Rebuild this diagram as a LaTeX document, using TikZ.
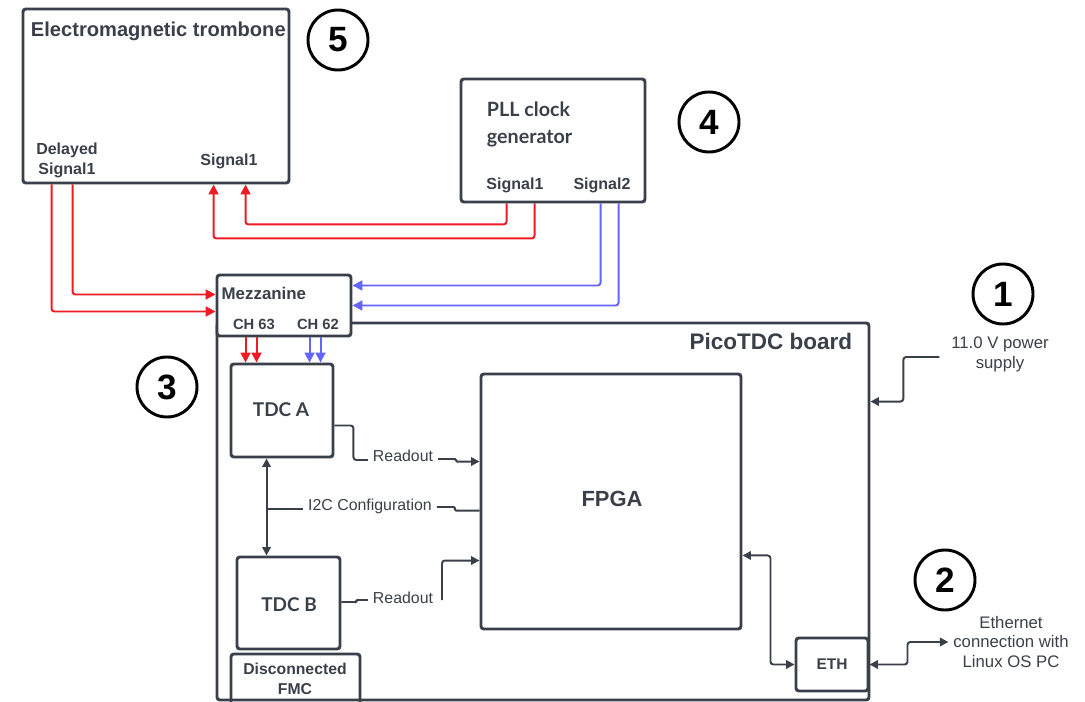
\documentclass[tikz,border=0pt]{standalone}
\usepackage{fontspec}
\setmainfont{Liberation Sans}
\newfontfamily\latofont{Lato}
\usetikzlibrary{arrows.meta, positioning, fit, calc}
\definecolor{Ink}{HTML}{3A4049}
\definecolor{SigRed}{HTML}{ED1C24}
\definecolor{SigBlue}{HTML}{6464FF}

\begin{document}
\begin{tikzpicture}[
          x=0.025cm, y=-0.025cm,
          box/.style={draw=Ink, line width=2.1pt, rounded corners=2pt, inner sep=0pt},
          solid box/.style={box, fill=white},
          ttl/.style={text=Ink, font=\fontsize{14.3}{17}\selectfont\bfseries},
          lbl/.style={text=Ink, font=\fontsize{11.4}{14.2}\selectfont\bfseries, align=center, inner sep=1pt},
          small lbl/.style={lbl, font=\fontsize{10.5}{13}\selectfont\bfseries},
          chip/.style={text=Ink, font=\latofont\fontsize{13.5}{16}\selectfont\bfseries},
          note/.style={text=Ink, font=\fontsize{11.3}{14.2}\selectfont, align=center},
          side note/.style={note, font=\fontsize{11.9}{14.2}\selectfont},
          marker/.style={circle, draw=black, line width=2.1pt, minimum size=1.5cm, inner sep=0pt, font=\fontsize{25}{25}\selectfont\bfseries},
          conn/.style={draw=Ink, line width=1.4pt, rounded corners=2pt},
          jog/.style={conn, rounded corners=0.8pt},
          arr/.style={conn, -{Triangle[length=6pt, width=6pt]}},
          darr/.style={conn, {Triangle[length=6pt, width=6pt]}-{Triangle[length=6pt, width=6pt]}},
          redarr/.style={draw=SigRed, line width=1.4pt, rounded corners=2pt, -{Triangle[length=7pt, width=7pt]}},
          bluearr/.style={draw=SigBlue, line width=1.4pt, rounded corners=2pt, -{Triangle[length=7pt, width=7pt]}}
        ]
          \useasboundingbox (0,0) rectangle (1085,702);

          \node[box, fit={(23,9) (289,183)}] (trom) {};
          \node[ttl, anchor=base west] at (26,37) {Electromagnetic trombone};
          \node[lbl] at (67,160) {Delayed\\Signal1};
          \node[lbl] at (229,161) {Signal1};

          \node[box, fit={(461,79) (645,202)}] (pll) {};
          \node[chip, anchor=west, align=left, font=\latofont\fontsize{14}{19.2}\selectfont\bfseries] at (482,124) {PLL clock\\generator};
          \node[lbl, anchor=base] at (515,190) {Signal1};
          \node[lbl, anchor=base] at (602,190) {Signal2};

          \node[box, fit={(217,323) (869,700)}] (board) {};
          \node[ttl, anchor=base east, font=\fontsize{16}{19}\selectfont\bfseries] at (857,349) {PicoTDC board};

          \node[solid box, fit={(217,275) (351,336)}] (mezz) {};
          \node[lbl, anchor=base west, font=\fontsize{12}{14}\selectfont\bfseries] at (220,299) {Mezzanine};
          \node[small lbl, anchor=base] at (254,329) {CH 63};
          \node[small lbl, anchor=base] at (318,329) {CH 62};

          \node[box, fit={(231,364) (333,457)}] (tdca) {};
          \node[chip] at (281,410) {TDC A};
          \node[box, fit={(237,557) (340,649)}] (tdcb) {};
          \node[chip] at (289,605) {TDC B};
          \node[box, fit={(231,654) (360,714)}] (fmc) {};
          \node[lbl, font=\fontsize{11.2}{14.2}\selectfont\bfseries] at (295,679) {Disconnected\\FMC};

          \node[box, fit={(481,374) (741,629)}] (fpga) {};
          \node[ttl, font=\fontsize{15.6}{18}\selectfont\bfseries] at (612,499) {FPGA};
          \node[box, fit={(796,638) (868,691)}] (eth) {};
          \node[lbl, font=\fontsize{11}{13}\selectfont\bfseries] at (832,664) {ETH};

          \node[marker] (m1) at (1003,294) {1};
          \node[marker] (m2) at (945,580) {2};
          \node[marker] (m3) at (167,387) {3};
          \node[marker] (m4) at (709,122) {4};
          \node[marker] (m5) at (338,40) {5};

          \node[side note] (pwr) at (1000,354) {11.0 V power\\supply};
          \node[side note] (ethpc) at (1011,642) {Ethernet\\connection with\\Linux OS PC};
          \node[note] (rda) at (403,456) {Readout};
          \node[note] (rdb) at (403,598) {Readout};
          \node[note] (i2c) at (370,506) {I2C Configuration};

          \draw[redarr] ($(trom.south west)+(30,0)$) |- ($(mezz.west)+(0,6)$);
          \draw[redarr] ($(trom.south west)+(51,0)$) |- ($(mezz.west)+(0,-11)$);
          \draw[redarr] ($(pll.south west)+(47,0)$) -- ++(0,21) -| ($(trom.south west)+(224,0)$);
          \draw[redarr] ($(pll.south west)+(75,0)$) -- ++(0,35) -| ($(trom.south west)+(192,0)$);
          \draw[bluearr] ($(pll.south west)+(141,0)$) |- ($(mezz.east)+(0,-20)$);
          \draw[bluearr] ($(pll.south west)+(159,0)$) |- (mezz.east);

          \draw[redarr] ($(mezz.south west)+(30,0)$) -- ($(tdca.north west)+(16,0)$);
          \draw[redarr] ($(mezz.south west)+(41,0)$) -- ($(tdca.north west)+(27,0)$);
          \draw[bluearr] ($(mezz.south west)+(94,0)$) -- ($(tdca.north west)+(80,0)$);
          \draw[bluearr] ($(mezz.south west)+(105,0)$) -- ($(tdca.north west)+(91,0)$);

          \draw[conn] ($(tdca.east)+(0,15)$) -- ++(19,0) |- ($(rda.west)+(0,4)$);
          \draw[arr, jog] ($(rda.east)+(0,3)$) -- ++(18,0) |- ($(fpga.north west)+(0,89)$);

          \draw[darr] ($(tdca.south west)+(37,0)$) -- ($(tdcb.north west)+(31,0)$);
          \coordinate (bus) at ($(tdca.south west)+(37,51)$);
          \draw[conn] (bus) -- (bus -| i2c.west);
          \draw[jog] ($(i2c.east)+(0,1)$) -- ++(18,0) |- ($(fpga.north west)+(0,138)$);

          \draw[jog] ($(tdcb.east)+(0,-1)$) -- ++(15,0) |- ($(rdb.west)+(0,2)$);
          \draw[arr] ($(rdb.east)+(4,2)$) |- ($(fpga.north west)+(0,188)$);

          \draw[darr] ($(fpga.south east)+(0,-75)$) -- ++(28,0) |- (eth.west);
          \draw[darr] (eth.east) -- ++(38,0) |- (ethpc.west);
          \draw[arr] ($(pwr.west)+(-7,3)$) -- ++(-36,0) |- ($(board.north east)+(0,80)$);
        \end{tikzpicture}
\end{document}
